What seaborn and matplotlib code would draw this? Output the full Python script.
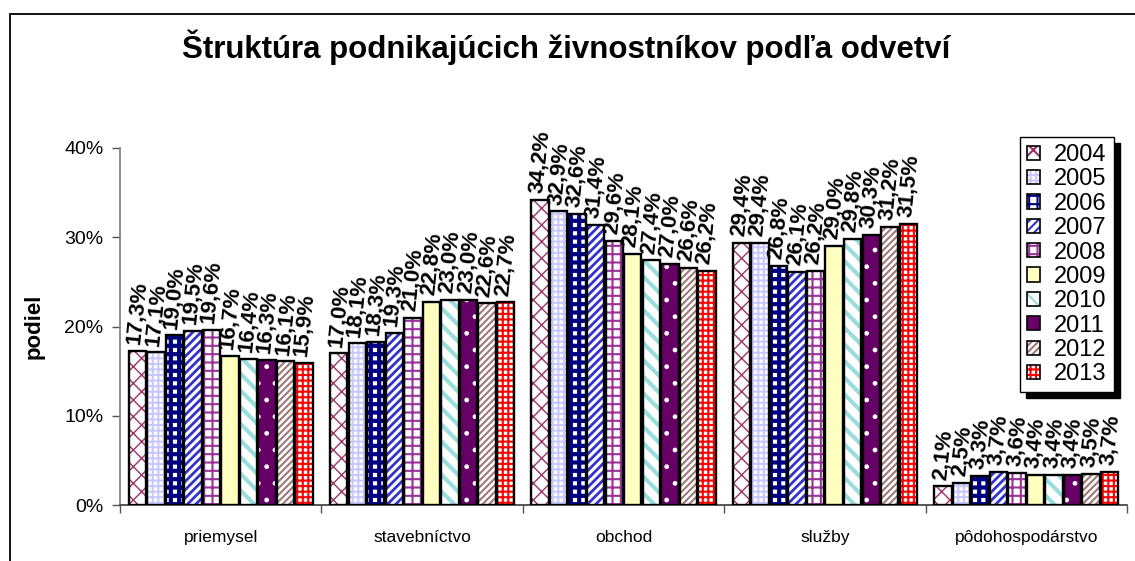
import pandas as pd
import matplotlib
matplotlib.use('Agg')
import matplotlib.pyplot as plt
import seaborn as sns
from matplotlib.patches import Rectangle, Patch
from matplotlib.ticker import FixedLocator, FuncFormatter

odvetvia = ['priemysel', 'stavebníctvo', 'obchod', 'služby', 'pôdohospodárstvo']
roky = ['2004', '2005', '2006', '2007', '2008', '2009', '2010', '2011', '2012', '2013']

priemysel = [17.3, 17.1, 19.0, 19.5, 19.6, 16.7, 16.4, 16.3, 16.1, 15.9]
stavebnictvo = [17.0, 18.1, 18.3, 19.3, 21.0, 22.8, 23.0, 23.0, 22.6, 22.7]
obchod = [34.2, 32.9, 32.6, 31.4, 29.6, 28.1, 27.4, 27.0, 26.6, 26.2]
sluzby = [29.4, 29.4, 26.8, 26.1, 26.2, 29.0, 29.8, 30.3, 31.2, 31.5]
podohospodarstvo = [2.1, 2.5, 3.3, 3.7, 3.6, 3.4, 3.4, 3.4, 3.5, 3.7]

# vyplne a vzory pre jednotlive roky (ako v exceli)
vyplne = ['white', 'white', 'white', 'white', 'white', '#FFFFC0', 'white', '#660066', 'white', 'white']
farby_vzoru = ['#993366', '#C8C8FF', '#000080', '#3333CC', '#993399', '#FFFFC0', '#99DDDD', 'white', '#A07878', '#FF0000']
vzory = ['xx', '+++', '++', '////', '++', '', '\\\\', '.', '/////', '+++']
hrubky = [1.0, 1.5, 3.0, 2.0, 1.5, 1.0, 3.0, 1.0, 1.5, 1.5]

hodnoty = [priemysel, stavebnictvo, obchod, sluzby, podohospodarstvo]
riadky = []
for o, vals in zip(odvetvia, hodnoty):
    for r, v in zip(roky, vals):
        riadky.append({'odvetvie': o, 'rok': r, 'podiel': v})
df = pd.DataFrame(riadky)

sns.set_theme(style='white')
plt.rcParams['font.family'] = ['Liberation Sans', 'DejaVu Sans']
plt.rcParams['text.color'] = 'black'
plt.rcParams['xtick.color'] = 'black'
plt.rcParams['ytick.color'] = 'black'
plt.rcParams['axes.labelcolor'] = 'black'
plt.rcParams['hatch.linewidth'] = 1.5

fig = plt.figure(figsize=(11.35, 5.61), dpi=100)
ax = fig.add_axes([120 / 1135, 56 / 561, 1007 / 1135, 357 / 561])

sns.barplot(data=df, x='odvetvie', y='podiel', hue='rok', order=odvetvia, hue_order=roky,
            width=0.92, gap=0.06, ax=ax, legend=False, errorbar=None)

for i, cont in enumerate(ax.containers):
    for bar in cont:
        bar.set_facecolor(vyplne[i])
        bar.set_edgecolor(farby_vzoru[i])
        bar.set_hatch(vzory[i] if vzory[i] else None)
        bar.set_linewidth(0)
        if hasattr(bar, 'set_hatch_linewidth'):
            bar.set_hatch_linewidth(hrubky[i])
        ax.add_patch(Rectangle(bar.get_xy(), bar.get_width(), bar.get_height(),
                               fill=False, edgecolor='black', lw=1.7, zorder=3))
    popisky = [f'{v:.1f}%'.replace('.', ',') for v in cont.datavalues]
    ax.bar_label(cont, labels=popisky, rotation=84, padding=4, fontsize=16,
                 fontweight='bold', color='black', clip_on=False)

ax.set_ylim(0, 40)
ax.set_xlim(-0.5, 4.5)
ax.yaxis.set_major_locator(FixedLocator([0, 10, 20, 30, 40]))
ax.yaxis.set_major_formatter(FuncFormatter(lambda v, p: f'{v:.0f}%'))
ax.set_xticks(range(len(odvetvia)))
ax.set_xticklabels(odvetvia)
ax.xaxis.set_minor_locator(FixedLocator([-0.5, 0.5, 1.5, 2.5, 3.5, 4.5]))
ax.tick_params(axis='x', which='major', length=0, labelsize=12.5, pad=18)
ax.tick_params(axis='x', which='minor', length=6, width=1, color='#555555', direction='out', bottom=True)
ax.tick_params(axis='y', length=6, width=1, color='#555555', direction='out', left=True, labelsize=14, pad=6)
for s in ['top', 'right']:
    ax.spines[s].set_visible(False)
ax.spines['left'].set_color('#808080')
ax.spines['bottom'].set_color('#404040')
ax.set_xlabel('')
ax.set_ylabel('podiel', fontsize=16, fontweight='bold', labelpad=14)

fig.suptitle('Štruktúra podnikajúcich živnostníkov podľa odvetví', x=0.499, y=1 - 47 / 561,
             va='center', fontsize=22.5, fontweight='bold', color='black')

# legenda
handles = []
for i in range(len(roky)):
    vypln = Patch(facecolor=vyplne[i], edgecolor=farby_vzoru[i], hatch=vzory[i] if vzory[i] else None, lw=0)
    obrys = Patch(facecolor='none', edgecolor='black', lw=1.2)
    handles.append((vypln, obrys))
ax.legend(handles, roky, loc='upper left', bbox_to_anchor=(1020 / 1135, 1 - 137 / 561),
          bbox_transform=fig.transFigure, fontsize=17, frameon=True, fancybox=False,
          edgecolor='black', framealpha=1, borderaxespad=0, borderpad=0.3,
          handlelength=0.55, handleheight=0.55, handletextpad=0.6, labelspacing=0.1,
          shadow={'ox': 4, 'oy': -4, 'color': 'black', 'alpha': 1})

# ramcek grafu
fig.add_artist(Rectangle((9.5 / 1135, -0.1), 1.2, 1.1 - 14 / 561, fill=False,
                         edgecolor='black', lw=1.3, transform=fig.transFigure, clip_on=False))

fig.savefig('out.png', dpi=100)
